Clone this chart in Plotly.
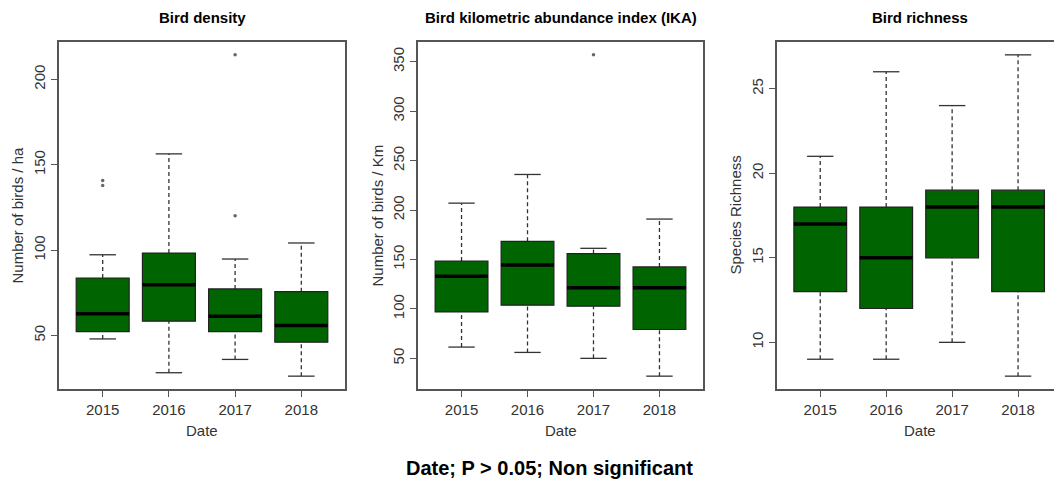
import plotly.graph_objects as go

# ---- data ----
years = ["2015", "2016", "2017", "2018"]

dens_lo = [48, 28.2, 36, 26.2]
dens_q1 = [52.3, 58.4, 52.3, 46.1]
dens_med = [62.8, 79.8, 61.3, 55.8]
dens_q3 = [83.7, 98.3, 77.3, 75.7]
dens_hi = [97.3, 156.4, 94.8, 104.2]
dens_out_x = ["2015", "2015", "2017", "2017"]
dens_out_y = [140.8, 137.9, 214.4, 120.1]

ika_lo = [61.4, 56, 50, 32]
ika_q1 = [97, 103.8, 102.8, 79.2]
ika_med = [133, 144.5, 121.3, 121.3]
ika_q3 = [148.5, 168.4, 156, 142.5]
ika_hi = [207, 236, 161.3, 190.9]
ika_out_x = ["2017"]
ika_out_y = [357]

rich_lo = [9, 9, 10, 8]
rich_q1 = [13, 12, 15, 13]
rich_med = [17, 15, 18, 18]
rich_q3 = [18, 18, 19, 19]
rich_hi = [21, 26, 24, 27]
rich_out_x = []
rich_out_y = []

titles = ["Bird density", "Bird kilometric abundance index (IKA)", "Bird richness"]
ytitles = ["Number of birds / ha", "Number of birds / Km", "Species Richness"]
xtitle = "Date"
yticks = [[50, 100, 150, 200], [50, 100, 150, 200, 250, 300, 350], [10, 15, 20, 25]]
footer = "Date; P > 0.05; Non significant"

panels = [
    (dens_lo, dens_q1, dens_med, dens_q3, dens_hi, dens_out_x, dens_out_y),
    (ika_lo, ika_q1, ika_med, ika_q3, ika_hi, ika_out_x, ika_out_y),
    (rich_lo, rich_q1, rich_med, rich_q3, rich_hi, rich_out_x, rich_out_y),
]

# ---- layout geometry ----
W, H = 1054, 483
xdoms = [(59 / W, 345 / W), (418 / W, 703 / W), (777 / W, 1.0)]
ydom = ((483 - 389) / H, (483 - 42) / H)
xranges = [[0.34, 4.66], [0.34, 4.66], [0.344, 4.545]]

FONT = "Liberation Sans, Arial, sans-serif"
FILL = "#006400"
BOXW = 0.8
CAPW = 0.4

fig = go.Figure()
layout = dict(
    width=W, height=H,
    margin=dict(l=0, r=0, t=0, b=0),
    paper_bgcolor="white", plot_bgcolor="white",
    showlegend=False,
    font=dict(family=FONT, color="#333333", size=15),
)

annotations = []
shapes = []

for p, (lo, q1, med, q3, hi, ox, oy) in enumerate(panels):
    xa = "x" if p == 0 else f"x{p+1}"
    ya = "y" if p == 0 else f"y{p+1}"
    xkey = "xaxis" if p == 0 else f"xaxis{p+1}"
    ykey = "yaxis" if p == 0 else f"yaxis{p+1}"

    vals = lo + hi + list(oy)
    vmin, vmax = min(vals), max(vals)
    pad = (vmax - vmin) * 0.04

    layout[xkey] = dict(
        domain=list(xdoms[p]), anchor=ya, range=xranges[p],
        tickmode="array", tickvals=[1, 2, 3, 4], ticktext=years,
        showgrid=False, zeroline=False,
        showline=True, linecolor="#555555", linewidth=1.5, mirror=True,
        ticks="outside", ticklen=6, tickcolor="#555555", tickwidth=1.2,
        tickfont=dict(size=15, color="#333333"),
    )
    layout[ykey] = dict(
        domain=list(ydom), anchor=xa, range=[vmin - pad, vmax + pad],
        tickmode="array", tickvals=yticks[p],
        showgrid=False, zeroline=False,
        showline=True, linecolor="#555555", linewidth=1.5, mirror=(p != 2),
        ticks="outside", ticklen=6, tickcolor="#555555", tickwidth=1.2,
        tickangle=-90, tickfont=dict(size=15, color="#333333"),
    )

    for i in range(4):
        xc = i + 1
        # whiskers (dashed)
        for a, b in ((lo[i], q1[i]), (q3[i], hi[i])):
            shapes.append(dict(type="line", xref=xa, yref=ya, x0=xc, x1=xc, y0=a, y1=b,
                               line=dict(color="#333333", width=1.3, dash="4px,3px")))
        # caps
        for v in (lo[i], hi[i]):
            shapes.append(dict(type="line", xref=xa, yref=ya, x0=xc - CAPW / 2, x1=xc + CAPW / 2,
                               y0=v, y1=v, line=dict(color="#333333", width=1.3)))
        # box
        shapes.append(dict(type="rect", xref=xa, yref=ya, x0=xc - BOXW / 2, x1=xc + BOXW / 2,
                           y0=q1[i], y1=q3[i], fillcolor=FILL,
                           line=dict(color="#222222", width=1.2)))
        # median
        shapes.append(dict(type="line", xref=xa, yref=ya, x0=xc - BOXW / 2, x1=xc + BOXW / 2,
                           y0=med[i], y1=med[i], line=dict(color="black", width=3.5)))

    # outliers
    if len(ox):
        fig.add_trace(go.Scatter(
            x=[years.index(v) + 1 for v in ox], y=oy, xaxis=xa, yaxis=ya,
            mode="markers", marker=dict(size=3.5, color="#666666"),
            hoverinfo="skip"))

    xmid = (xdoms[p][0] + xdoms[p][1]) / 2
    if p == 2:
        xmid = (777 + 1062) / 2 / W
    annotations.append(dict(text=f"<b>{titles[p]}</b>", xref="paper", yref="paper",
                            x=xmid, y=(H - 18) / H, showarrow=False,
                            font=dict(size=15, color="black"), xanchor="center", yanchor="middle"))
    annotations.append(dict(text=xtitle, xref="paper", yref="paper",
                            x=xmid, y=(H - 430) / H, showarrow=False,
                            font=dict(size=15, color="#333333"), xanchor="center", yanchor="middle"))
    ytx = [17, 377, 735][p]
    annotations.append(dict(text=ytitles[p], xref="paper", yref="paper",
                            x=ytx / W, y=(ydom[0] + ydom[1]) / 2, showarrow=False, textangle=-90,
                            font=dict(size=15, color="#333333"), xanchor="center", yanchor="middle"))

annotations.append(dict(text=f"<b>{footer}</b>", xref="paper", yref="paper",
                        x=549 / W, y=(H - 468) / H, showarrow=False,
                        font=dict(size=20, color="black"), xanchor="center", yanchor="middle"))

layout["annotations"] = annotations
layout["shapes"] = shapes
fig.update_layout(**layout)
fig.write_html("out.html")
